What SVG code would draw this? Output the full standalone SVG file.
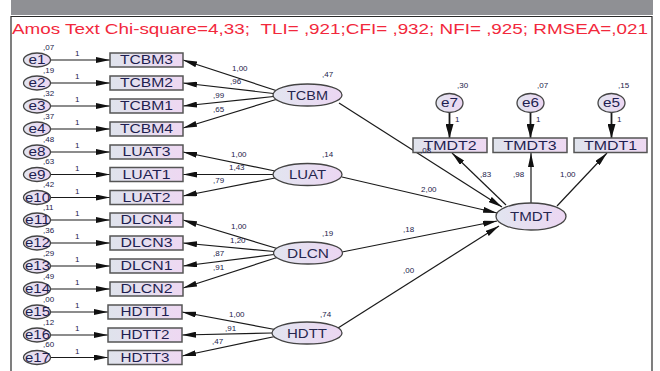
<svg xmlns="http://www.w3.org/2000/svg" width="660" height="371" viewBox="0 0 660 371">
  <defs>
    <linearGradient id="fillBox" x1="0" y1="0" x2="1" y2="0">
      <stop offset="0" stop-color="#dfe3ec"/>
      <stop offset="1" stop-color="#eed8f2"/>
    </linearGradient>
    <linearGradient id="fillOval" x1="0" y1="0" x2="1" y2="0">
      <stop offset="0" stop-color="#e2e5f0"/>
      <stop offset="1" stop-color="#ecd6f2"/>
    </linearGradient>
    <marker id="head" markerUnits="userSpaceOnUse" viewBox="0 0 14 6" markerWidth="14" markerHeight="6" refX="14" refY="3" orient="auto">
      <path d="M0,0 L14,3 L0,6 z" fill="#111"/>
    </marker>
    <marker id="headWide" markerUnits="userSpaceOnUse" viewBox="0 0 14 8" markerWidth="14" markerHeight="8" refX="14" refY="4" orient="auto">
      <path d="M0,0 L14,4 L0,8 z" fill="#111"/>
    </marker>
  </defs>
  <style>
    .box { fill: url(#fillBox); stroke: #555; stroke-width: 1.5; }
    .oval { fill: url(#fillOval); stroke: #444; stroke-width: 1.3; }
    .err { fill: url(#fillOval); stroke: #444; stroke-width: 1.3; }
    .lbl { font-family: "Liberation Sans", Arial, sans-serif; font-size: 12px; fill: #1e1e50; text-anchor: middle; }
    .big { font-family: "Liberation Sans", Arial, sans-serif; font-size: 12.5px; fill: #26264e; text-anchor: middle; }
    .num { font-family: "Liberation Sans", Arial, sans-serif; font-size: 8px; fill: #22224a; }
    .title { font-family: "Liberation Sans", Arial, sans-serif; font-size: 14px; fill: #f2283c; }
    .arr { stroke: #1a1a1a; stroke-width: 1.2; fill: none; marker-end: url(#head); }
    .arrV { stroke: #1a1a1a; stroke-width: 1.8; fill: none; marker-end: url(#headWide); }
  </style>

  <!-- frame -->
  <rect x="0" y="0" width="660" height="371" fill="#ffffff"/>
  <rect x="11" y="0" width="642" height="15" fill="#8f9094"/>
  <path d="M11,371 L11,16.5 L652,16.5 L652,371" fill="none" stroke="#2a2a2a" stroke-width="1.2"/>

  <text class="title" x="12" y="34" textLength="636" lengthAdjust="spacingAndGlyphs">Amos Text Chi-square=4,33; &#160;TLI= ,921;CFI= ,932; NFI= ,925; RMSEA=,021</text>

  <!-- connectors -->
  <g id="connectors">
    <!-- error terms to indicators -->
    <line class="arr" x1="50.5" y1="60" x2="110" y2="60"/>
    <line class="arr" x1="50.5" y1="83" x2="110" y2="83"/>
    <line class="arr" x1="50.5" y1="106" x2="110" y2="106"/>
    <line class="arr" x1="50.5" y1="129" x2="110" y2="129"/>
    <line class="arr" x1="50.5" y1="152" x2="110" y2="152"/>
    <line class="arr" x1="50.5" y1="174.5" x2="110" y2="174.5"/>
    <line class="arr" x1="50.5" y1="197.5" x2="110" y2="197.5"/>
    <line class="arr" x1="50.5" y1="220" x2="110" y2="220"/>
    <line class="arr" x1="50.5" y1="243" x2="110" y2="243"/>
    <line class="arr" x1="50.5" y1="266" x2="110" y2="266"/>
    <line class="arr" x1="50.5" y1="289" x2="110" y2="289"/>
    <line class="arr" x1="50.5" y1="312" x2="108" y2="312"/>
    <line class="arr" x1="50.5" y1="335" x2="108" y2="335"/>
    <line class="arr" x1="50.5" y1="357.5" x2="108" y2="357.5"/>

    <!-- TCBM loadings -->
    <line class="arr" x1="276" y1="90.5" x2="183" y2="60"/>
    <line class="arr" x1="273.5" y1="93.5" x2="183" y2="83"/>
    <line class="arr" x1="273.5" y1="96.5" x2="183" y2="106"/>
    <line class="arr" x1="276" y1="99.5" x2="183" y2="128"/>
    <!-- LUAT loadings -->
    <line class="arr" x1="275" y1="171" x2="183" y2="152"/>
    <line class="arr" x1="273" y1="174.5" x2="183" y2="174.5"/>
    <line class="arr" x1="275" y1="178" x2="183" y2="196"/>
    <!-- DLCN loadings -->
    <line class="arr" x1="277" y1="248.5" x2="183" y2="220"/>
    <line class="arr" x1="274" y1="251.5" x2="183" y2="243"/>
    <line class="arr" x1="274" y1="254.5" x2="183" y2="266"/>
    <line class="arr" x1="277" y1="257.5" x2="183" y2="288"/>
    <!-- HDTT loadings -->
    <line class="arr" x1="275" y1="329.5" x2="182" y2="312"/>
    <line class="arr" x1="272" y1="333" x2="182" y2="335"/>
    <line class="arr" x1="275" y1="336.5" x2="182" y2="356"/>

    <!-- structural paths -->
    <line class="arr" x1="339" y1="103" x2="502" y2="207"/>
    <line class="arr" x1="342" y1="177" x2="497" y2="213"/>
    <line class="arr" x1="342" y1="252" x2="497" y2="221"/>
    <line class="arr" x1="338" y1="328" x2="499" y2="226"/>

    <!-- TMDT loadings -->
    <line class="arr" x1="506" y1="205" x2="452" y2="153"/>
    <line class="arr" x1="531" y1="203" x2="531" y2="153"/>
    <line class="arr" x1="557" y1="206" x2="607" y2="153"/>

    <!-- error terms of TMDT indicators -->
    <line class="arrV" x1="449.5" y1="113" x2="449.5" y2="138"/>
    <line class="arrV" x1="530.5" y1="113" x2="530.5" y2="138"/>
    <line class="arrV" x1="611.5" y1="113" x2="611.5" y2="138"/>
  </g>

  <!-- error term nodes (left) -->
  <g id="e1"><ellipse class="err" cx="37" cy="60" rx="13.5" ry="7"/><text class="lbl" x="37" y="64.3" textLength="17" lengthAdjust="spacingAndGlyphs">e1</text></g>
  <g id="e2"><ellipse class="err" cx="37" cy="83" rx="13.5" ry="7"/><text class="lbl" x="37" y="87.3" textLength="17" lengthAdjust="spacingAndGlyphs">e2</text></g>
  <g id="e3"><ellipse class="err" cx="37" cy="106" rx="13.5" ry="7"/><text class="lbl" x="37" y="110.3" textLength="17" lengthAdjust="spacingAndGlyphs">e3</text></g>
  <g id="e4"><ellipse class="err" cx="37" cy="129" rx="13.5" ry="7"/><text class="lbl" x="37" y="133.3" textLength="17" lengthAdjust="spacingAndGlyphs">e4</text></g>
  <g id="e8"><ellipse class="err" cx="37" cy="152" rx="13.5" ry="7"/><text class="lbl" x="37" y="156.3" textLength="17" lengthAdjust="spacingAndGlyphs">e8</text></g>
  <g id="e9"><ellipse class="err" cx="37" cy="174.5" rx="13.5" ry="7"/><text class="lbl" x="37" y="178.8" textLength="17" lengthAdjust="spacingAndGlyphs">e9</text></g>
  <g id="e10"><ellipse class="err" cx="37" cy="197.5" rx="13.5" ry="7"/><text class="lbl" x="37.5" y="201.8" textLength="25" lengthAdjust="spacingAndGlyphs">e10</text></g>
  <g id="e11"><ellipse class="err" cx="37" cy="220" rx="13.5" ry="7"/><text class="lbl" x="37.5" y="224.3" textLength="25" lengthAdjust="spacingAndGlyphs">e11</text></g>
  <g id="e12"><ellipse class="err" cx="37" cy="243" rx="13.5" ry="7"/><text class="lbl" x="37.5" y="247.3" textLength="25" lengthAdjust="spacingAndGlyphs">e12</text></g>
  <g id="e13"><ellipse class="err" cx="37" cy="266" rx="13.5" ry="7"/><text class="lbl" x="37.5" y="270.3" textLength="25" lengthAdjust="spacingAndGlyphs">e13</text></g>
  <g id="e14"><ellipse class="err" cx="37" cy="289" rx="13.5" ry="7"/><text class="lbl" x="37.5" y="293.3" textLength="25" lengthAdjust="spacingAndGlyphs">e14</text></g>
  <g id="e15"><ellipse class="err" cx="37" cy="312" rx="13.5" ry="7"/><text class="lbl" x="37.5" y="316.3" textLength="25" lengthAdjust="spacingAndGlyphs">e15</text></g>
  <g id="e16"><ellipse class="err" cx="37" cy="335" rx="13.5" ry="7"/><text class="lbl" x="37.5" y="339.3" textLength="25" lengthAdjust="spacingAndGlyphs">e16</text></g>
  <g id="e17"><ellipse class="err" cx="37" cy="357.5" rx="13.5" ry="7"/><text class="lbl" x="37.5" y="361.8" textLength="25" lengthAdjust="spacingAndGlyphs">e17</text></g>

  <!-- variances and fixed weights of left error terms -->
  <g id="err-values">
    <text class="num" x="43" y="49.5">,07</text><text class="num" x="75" y="56">1</text>
    <text class="num" x="43" y="72.5">,19</text><text class="num" x="75" y="79">1</text>
    <text class="num" x="43" y="95.5">,32</text><text class="num" x="75" y="102">1</text>
    <text class="num" x="43" y="118.5">,37</text><text class="num" x="75" y="125">1</text>
    <text class="num" x="43" y="141.5">,48</text><text class="num" x="75" y="148">1</text>
    <text class="num" x="43" y="164">,63</text><text class="num" x="75" y="170.5">1</text>
    <text class="num" x="43" y="187">,42</text><text class="num" x="75" y="193.5">1</text>
    <text class="num" x="43" y="209.5">,11</text><text class="num" x="75" y="216">1</text>
    <text class="num" x="43" y="232.5">,36</text><text class="num" x="75" y="239">1</text>
    <text class="num" x="43" y="255.5">,29</text><text class="num" x="75" y="262">1</text>
    <text class="num" x="43" y="278.5">,49</text><text class="num" x="75" y="285">1</text>
    <text class="num" x="43" y="301.5">,00</text><text class="num" x="75" y="308">1</text>
    <text class="num" x="43" y="324.5">,12</text><text class="num" x="75" y="331">1</text>
    <text class="num" x="43" y="347">,60</text><text class="num" x="75" y="353.5">1</text>
  </g>

  <!-- observed indicators (left) -->
  <g id="TCBM3"><rect class="box" x="110" y="53" width="73" height="14"/><text class="lbl" x="146.5" y="64.3" textLength="53" lengthAdjust="spacingAndGlyphs">TCBM3</text></g>
  <g id="TCBM2"><rect class="box" x="110" y="76" width="73" height="14"/><text class="lbl" x="146.5" y="87.3" textLength="53" lengthAdjust="spacingAndGlyphs">TCBM2</text></g>
  <g id="TCBM1"><rect class="box" x="110" y="99" width="73" height="14"/><text class="lbl" x="146.5" y="110.3" textLength="53" lengthAdjust="spacingAndGlyphs">TCBM1</text></g>
  <g id="TCBM4"><rect class="box" x="110" y="122" width="73" height="14"/><text class="lbl" x="146.5" y="133.3" textLength="53" lengthAdjust="spacingAndGlyphs">TCBM4</text></g>
  <g id="LUAT3"><rect class="box" x="110" y="145" width="73" height="14"/><text class="lbl" x="146.5" y="156.3" textLength="48" lengthAdjust="spacingAndGlyphs">LUAT3</text></g>
  <g id="LUAT1"><rect class="box" x="110" y="167.5" width="73" height="14"/><text class="lbl" x="146.5" y="178.8" textLength="48" lengthAdjust="spacingAndGlyphs">LUAT1</text></g>
  <g id="LUAT2"><rect class="box" x="110" y="190.5" width="73" height="14"/><text class="lbl" x="146.5" y="201.8" textLength="48" lengthAdjust="spacingAndGlyphs">LUAT2</text></g>
  <g id="DLCN4"><rect class="box" x="110" y="213" width="73" height="14"/><text class="lbl" x="146.5" y="224.3" textLength="52" lengthAdjust="spacingAndGlyphs">DLCN4</text></g>
  <g id="DLCN3"><rect class="box" x="110" y="236" width="73" height="14"/><text class="lbl" x="146.5" y="247.3" textLength="52" lengthAdjust="spacingAndGlyphs">DLCN3</text></g>
  <g id="DLCN1"><rect class="box" x="110" y="259" width="73" height="14"/><text class="lbl" x="146.5" y="270.3" textLength="52" lengthAdjust="spacingAndGlyphs">DLCN1</text></g>
  <g id="DLCN2"><rect class="box" x="110" y="282" width="73" height="14"/><text class="lbl" x="146.5" y="293.3" textLength="52" lengthAdjust="spacingAndGlyphs">DLCN2</text></g>
  <g id="HDTT1"><rect class="box" x="108" y="305" width="74" height="14"/><text class="lbl" x="145" y="316.3" textLength="49" lengthAdjust="spacingAndGlyphs">HDTT1</text></g>
  <g id="HDTT2"><rect class="box" x="108" y="328" width="74" height="14"/><text class="lbl" x="145" y="339.3" textLength="49" lengthAdjust="spacingAndGlyphs">HDTT2</text></g>
  <g id="HDTT3"><rect class="box" x="108" y="350.5" width="74" height="14"/><text class="lbl" x="145" y="361.8" textLength="49" lengthAdjust="spacingAndGlyphs">HDTT3</text></g>

  <!-- latent factors -->
  <g id="TCBM"><ellipse class="oval" cx="307.5" cy="95" rx="34.5" ry="11"/><text class="big" x="307.5" y="99.5" textLength="41" lengthAdjust="spacingAndGlyphs">TCBM</text></g>
  <g id="LUAT"><ellipse class="oval" cx="307.5" cy="174.5" rx="34.5" ry="11"/><text class="big" x="307.5" y="179" textLength="37" lengthAdjust="spacingAndGlyphs">LUAT</text></g>
  <g id="DLCN"><ellipse class="oval" cx="308" cy="253" rx="34.5" ry="11"/><text class="big" x="308" y="257.5" textLength="42" lengthAdjust="spacingAndGlyphs">DLCN</text></g>
  <g id="HDTT"><ellipse class="oval" cx="307" cy="333" rx="35" ry="11"/><text class="big" x="307" y="337.5" textLength="40" lengthAdjust="spacingAndGlyphs">HDTT</text></g>
  <g id="TMDT"><ellipse class="oval" cx="531" cy="216.5" rx="35" ry="13.5"/><text class="big" x="531" y="221" textLength="42" lengthAdjust="spacingAndGlyphs">TMDT</text></g>

  <!-- right error terms -->
  <g id="e7"><ellipse class="err" cx="449.5" cy="103" rx="13.5" ry="9.5"/><text class="lbl" x="449.5" y="107.3" textLength="17" lengthAdjust="spacingAndGlyphs">e7</text></g>
  <g id="e6"><ellipse class="err" cx="530.5" cy="103" rx="13.5" ry="9.5"/><text class="lbl" x="530.5" y="107.3" textLength="17" lengthAdjust="spacingAndGlyphs">e6</text></g>
  <g id="e5"><ellipse class="err" cx="611.5" cy="103" rx="13.5" ry="9.5"/><text class="lbl" x="611.5" y="107.3" textLength="17" lengthAdjust="spacingAndGlyphs">e5</text></g>

  <!-- right indicators -->
  <g id="TMDT2"><rect class="box" x="413" y="138" width="74" height="14.5"/><text class="lbl" x="450" y="149.5" textLength="53" lengthAdjust="spacingAndGlyphs">TMDT2</text></g>
  <g id="TMDT3"><rect class="box" x="493" y="138" width="74" height="14.5"/><text class="lbl" x="530" y="149.5" textLength="53" lengthAdjust="spacingAndGlyphs">TMDT3</text></g>
  <g id="TMDT1"><rect class="box" x="574" y="138" width="73" height="14.5"/><text class="lbl" x="610.5" y="149.5" textLength="53" lengthAdjust="spacingAndGlyphs">TMDT1</text></g>

  <!-- estimates -->
  <g id="estimates">
    <text class="num" x="322" y="77">,47</text>
    <text class="num" x="322" y="157">,14</text>
    <text class="num" x="322" y="236">,19</text>
    <text class="num" x="320" y="317">,74</text>

    <text class="num" x="232" y="71">1,00</text>
    <text class="num" x="230" y="84">,96</text>
    <text class="num" x="213" y="98">,99</text>
    <text class="num" x="213" y="112">,65</text>

    <text class="num" x="231" y="157">1,00</text>
    <text class="num" x="229" y="170">1,43</text>
    <text class="num" x="213" y="183">,79</text>

    <text class="num" x="231" y="229">1,00</text>
    <text class="num" x="230" y="243">1,20</text>
    <text class="num" x="213" y="256">,87</text>
    <text class="num" x="213" y="270">,91</text>

    <text class="num" x="229" y="317">1,00</text>
    <text class="num" x="225" y="331">,91</text>
    <text class="num" x="212" y="344">,47</text>

    <text class="num" x="421" y="192">2,00</text>
    <text class="num" x="403" y="232">,18</text>
    <text class="num" x="403" y="273">,00</text>

    <text class="num" x="480" y="177">,83</text>
    <text class="num" x="513" y="177">,98</text>
    <text class="num" x="560" y="177">1,00</text>

    <text class="num" x="457" y="88">,30</text>
    <text class="num" x="537" y="88">,07</text>
    <text class="num" x="618" y="88">,15</text>
    <text class="num" x="455" y="122">1</text>
    <text class="num" x="536" y="122">1</text>
    <text class="num" x="617" y="122">1</text>

    <text class="num" x="420" y="153">,08</text>
  </g>
</svg>
